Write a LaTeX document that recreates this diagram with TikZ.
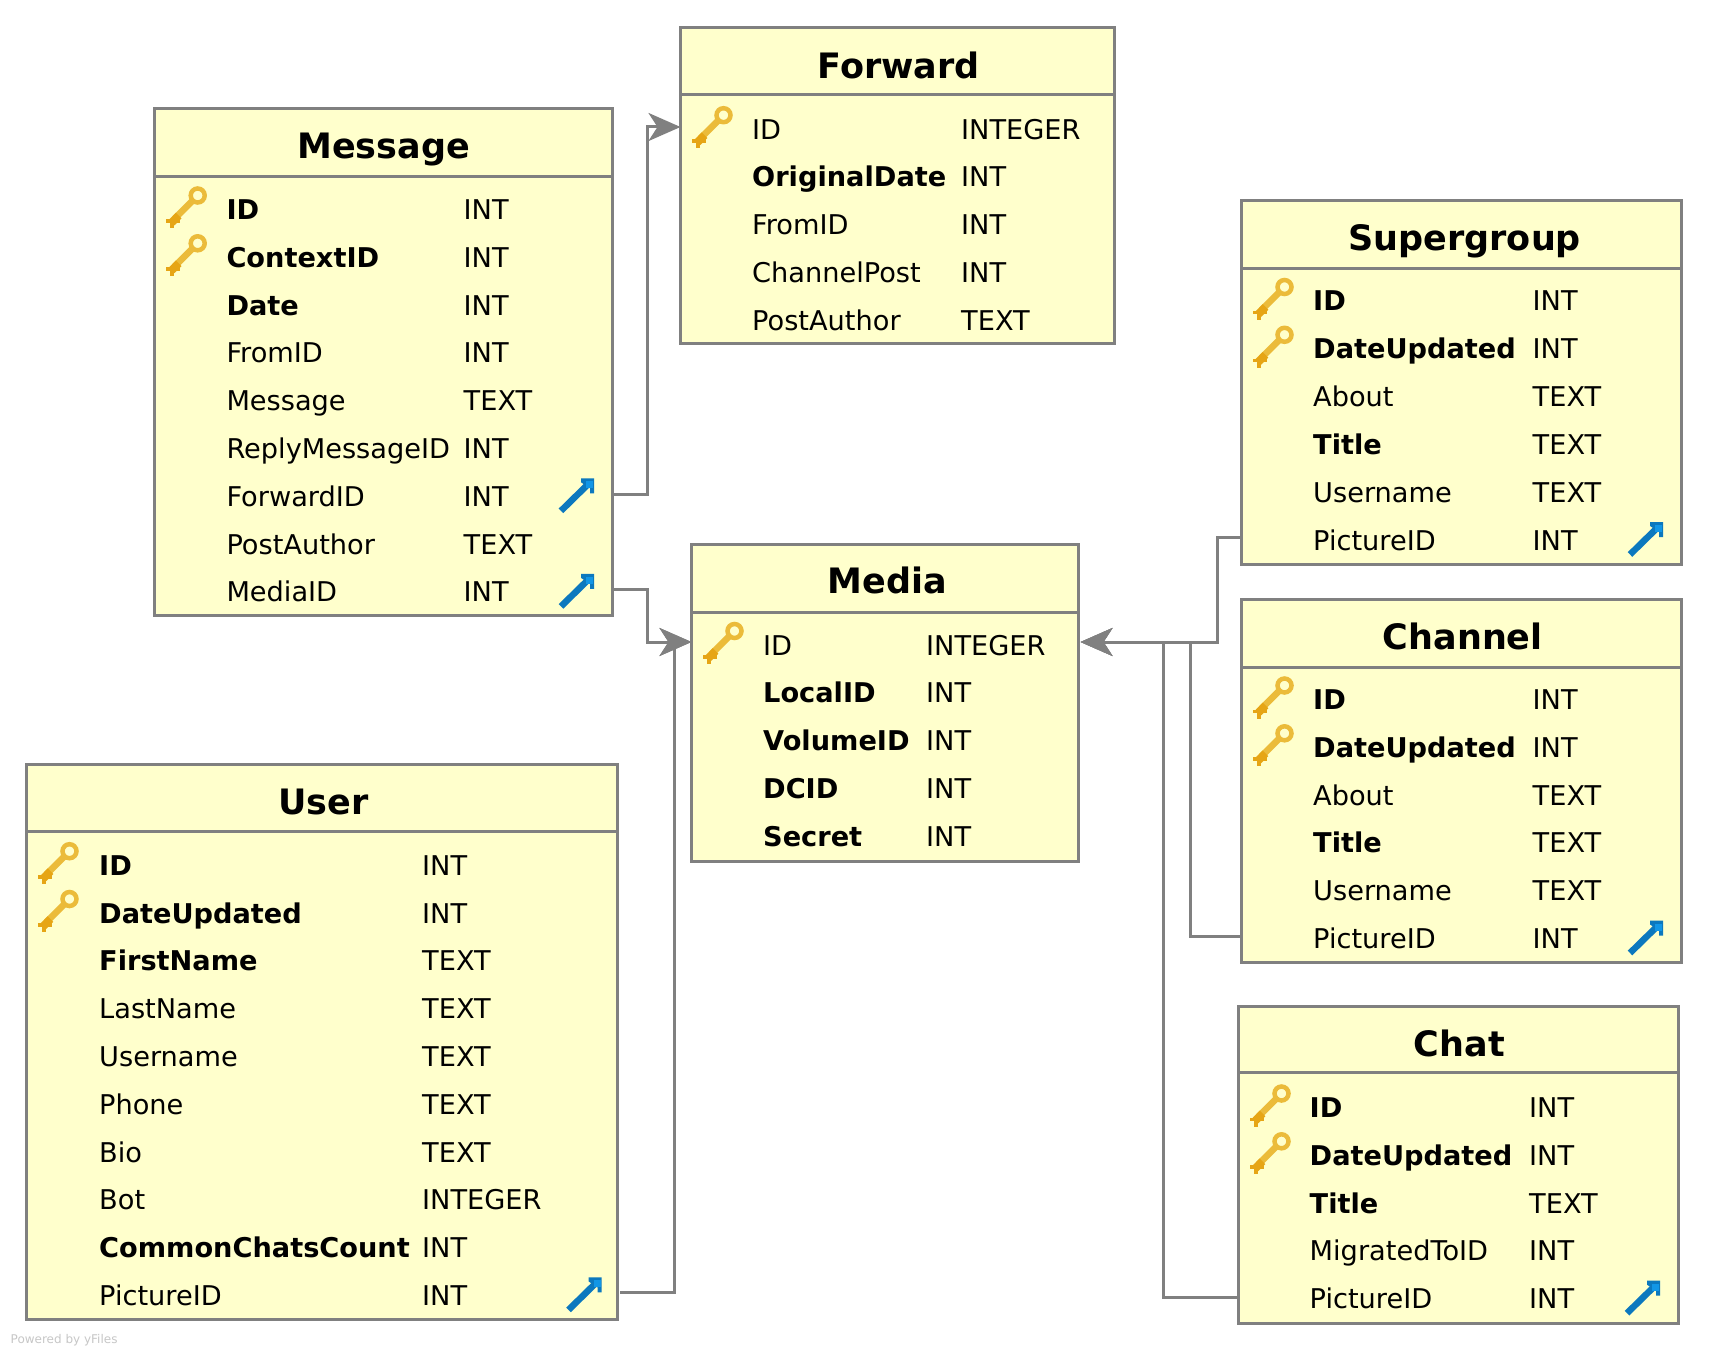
\documentclass[tikz,border=0pt]{standalone}
\usepackage{fontspec}
\setmainfont{DejaVu Sans}
\usetikzlibrary{arrows.meta}
\definecolor{boxfill}{HTML}{FFFFCC}
\definecolor{edgegray}{HTML}{808080}
\definecolor{keygold}{HTML}{EBBB3A}
\definecolor{keydark}{HTML}{E6A515}
\definecolor{fkblue}{HTML}{0C78BE}
\definecolor{fkhead}{HTML}{1296E6}
\tikzset{
  x=1pt,y=-1pt,
  tablebox/.style={draw=edgegray,fill=boxfill,line width=3pt,inner sep=0pt,outer sep=0pt},
  tabletitle/.style={anchor=base,inner sep=0pt,font=\fontsize{35}{35}\selectfont\bfseries},
  rowtext/.style={anchor=base west,inner sep=0pt,font=\fontsize{27.2}{30}\selectfont},
  headerline/.style={draw=edgegray,line width=3pt},
  conn/.style={draw=edgegray,line width=3pt,line join=miter,-{Stealth[length=32pt,width=28pt,inset=9pt]}},
  pkkey/.pic={
    \draw[keygold,line width=4.5pt] (43,-24) circle (7);
    \draw[keygold,line width=6.5pt] (37.5,-18.5) -- (20,-1);
    \draw[keydark,line width=8pt] (24,-4) -- (17,3);
    \fill[keydark] (11,0) rectangle (25,3.5);
    \fill[keydark] (15,1) rectangle (19,9);
  },
  fklink/.pic={
    \draw[fkblue,line width=6.5pt] (-33,4.5) -- (-7,-21);
    \fill[fkblue] (-13,-28) -- (0,-28) -- (0,-13) -- (-4,-13) -- (-4,-18) -- (-13,-24) -- cycle;
    \fill[fkhead] (-8,-25) rectangle (-1,-18);
  }
}
% name, x0, y0, x1, y1, header y, title, title x shift, title rise
\newcommand{\dbtable}[9]{%
  \pgfmathsetmacro{\bw}{#4-#2}\pgfmathsetmacro{\bh}{#5-#3}%
  \pgfmathsetmacro{\cx}{(#2+#4)/2}\pgfmathsetmacro{\cy}{(#3+#5)/2}%
  \node[tablebox,minimum width=\bw pt,minimum height=\bh pt] (#1) at (\cx,\cy) {};
  \draw[headerline] (#2,#6) -- (#4,#6);
  \node[tabletitle] (#1-title) at (\cx+#8,#6-#9) {#7};
}
% prefix, x0, arrow right x, name x, type x, first baseline, rows
\newcommand{\dbrows}[7]{%
  \foreach \nm/\tp/\fn/\ic [count=\ri from 0] in {#7}{%
    \pgfmathsetmacro{\ry}{#6+47.8*\ri}%
    \node[rowtext] (#1-n\ri) at (#4,\ry) {\fn\nm};
    \node[rowtext] (#1-t\ri) at (#5,\ry) {\tp};
    \ifx\ic\pkname \pic at (#2,\ry) {pkkey};\fi
    \ifx\ic\fkname \pic at (#3,\ry) {fklink};\fi
  }%
}
\def\pkname{k}\def\fkname{f}
\def\R{\normalfont}\def\B{\bfseries}
\begin{document}
\begin{tikzpicture}
\useasboundingbox (0,0) rectangle (1714,1356);
\fill[white] (0,0) rectangle (1714,1356);

\dbtable{message}{154.7}{108.3}{612.3}{615}{176.5}{Message}{0}{18}
\dbrows{message}{154.7}{594}{226.3}{463.5}{219.5}{ID/INT/\B/k,ContextID/INT/\B/k,Date/INT/\B/n,FromID/INT/\R/n,Message/TEXT/\R/n,ReplyMessageID/INT/\R/n,ForwardID/INT/\R/f,PostAuthor/TEXT/\R/n,MediaID/INT/\R/f}

\dbtable{forward}{680.5}{27.5}{1114}{344}{94.5}{Forward}{1.5}{16}
\dbrows{forward}{680.5}{0}{752}{961}{139.2}{ID/INTEGER/\R/k,OriginalDate/INT/\B/n,FromID/INT/\R/n,ChannelPost/INT/\R/n,PostAuthor/TEXT/\R/n}

\dbtable{supergroup}{1241.5}{200.5}{1681}{564}{268.5}{Supergroup}{3.5}{18}
\dbrows{supergroup}{1241.5}{1663}{1313}{1532.5}{311}{ID/INT/\B/k,DateUpdated/INT/\B/k,About/TEXT/\R/n,Title/TEXT/\B/n,Username/TEXT/\R/n,PictureID/INT/\R/f}

\dbtable{channel}{1241.5}{599.5}{1681}{962}{667}{Channel}{1.5}{18}
\dbrows{channel}{1241.5}{1663}{1313}{1532.5}{709.5}{ID/INT/\B/k,DateUpdated/INT/\B/k,About/TEXT/\R/n,Title/TEXT/\B/n,Username/TEXT/\R/n,PictureID/INT/\R/f}

\dbtable{chat}{1238.5}{1006}{1678}{1323}{1072.5}{Chat}{1}{16}
\dbrows{chat}{1238.5}{1660}{1309.5}{1529}{1117.5}{ID/INT/\B/k,DateUpdated/INT/\B/k,Title/TEXT/\B/n,MigratedToID/INT/\R/n,PictureID/INT/\R/f}

\dbtable{media}{691.5}{544.5}{1078}{861.5}{612.3}{Media}{2.5}{18.5}
\dbrows{media}{691.5}{0}{763}{926}{655}{ID/INTEGER/\R/k,LocalID/INT/\B/n,VolumeID/INT/\B/n,DCID/INT/\B/n,Secret/INT/\B/n}

\dbtable{user}{26.5}{764}{617}{1319.5}{831.7}{User}{1.5}{17}
\dbrows{user}{26.5}{601.5}{99}{422}{875.2}{ID/INT/\B/k,DateUpdated/INT/\B/k,FirstName/TEXT/\B/n,LastName/TEXT/\R/n,Username/TEXT/\R/n,Phone/TEXT/\R/n,Bio/TEXT/\R/n,Bot/INTEGER/\R/n,CommonChatsCount/INT/\B/n,PictureID/INT/\R/f}

\draw[conn] (message.east |- 0,494) -- (647,494) -- (647,127) -- (forward.west |- 0,127);
\draw[conn] (message.east |- 0,589) -- (647,589) -- (647,642) -- (media.west |- 0,642);
\draw[conn] (user.east |- 0,1292) ++(3,0) -- (674,1292) -- (674,642) -- (media.west |- 0,642);
\draw[conn,shorten >=2.5pt] (supergroup.west |- 0,537) -- (1217,537) -- (1217,642) -- (media.east |- 0,642);
\draw[conn,shorten >=2.5pt] (channel.west |- 0,936) -- (1190,936) -- (1190,642) -- (media.east |- 0,642);
\draw[conn,shorten >=2.5pt] (chat.west |- 0,1297) -- (1163,1297) -- (1163,642) -- (media.east |- 0,642);

\node[anchor=base west,inner sep=0pt,text=black!22,font=\fontsize{12}{12}\selectfont] (powered) at (10.5,1343) {Powered by yFiles};
\end{tikzpicture}
\end{document}
